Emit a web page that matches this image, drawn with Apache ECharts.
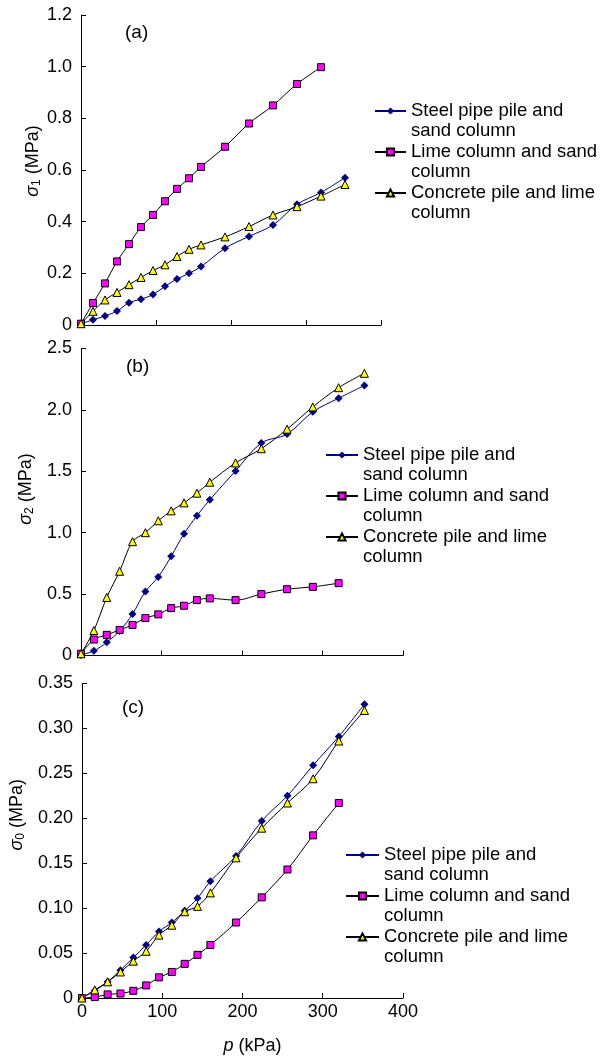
<!DOCTYPE html>
<html>
<head>
<meta charset="utf-8">
<script src="https://cdn.jsdelivr.net/npm/echarts@6/dist/echarts.min.js"></script>
<style>
  html, body { margin: 0; padding: 0; background: #fff; }
  #chart { width: 608px; height: 1056px; }
</style>
</head>
<body>
<div id="chart"></div>
<script>
// applied pressure p (kPa), same load steps for every test
const pSteps = [0, 16, 32, 48, 64, 80, 96, 112, 128, 144, 160, 192, 224, 256, 288, 320, 352]

const names = ['Steel pipe pile and sand column', 'Lime column and sand column', 'Concrete pile and lime column']
const legendLines = {
  'Steel pipe pile and sand column': 'Steel pipe pile and\nsand column',
  'Lime column and sand column': 'Lime column and sand\ncolumn',
  'Concrete pile and lime column': 'Concrete pile and lime\ncolumn'
}

// (a) sigma1 (MPa)
const steelA = [0.005, 0.02, 0.035, 0.054, 0.086, 0.10, 0.118, 0.15, 0.178, 0.20, 0.226, 0.297, 0.343, 0.387, 0.467, 0.513, 0.57]
const limeA = [0.005, 0.085, 0.161, 0.246, 0.313, 0.379, 0.426, 0.479, 0.527, 0.568, 0.612, 0.69, 0.78, 0.85, 0.933, 0.998]
const concA = [0.005, 0.053, 0.097, 0.126, 0.156, 0.184, 0.211, 0.233, 0.265, 0.293, 0.31, 0.341, 0.381, 0.426, 0.458, 0.499, 0.544]

// (b) sigma2 (MPa)
const steelB = [0.005, 0.038, 0.108, 0.2, 0.338, 0.522, 0.64, 0.808, 0.992, 1.138, 1.268, 1.503, 1.73, 1.803, 1.984, 2.095, 2.198]
const limeB = [0.014, 0.13, 0.168, 0.208, 0.249, 0.305, 0.335, 0.386, 0.405, 0.451, 0.465, 0.451, 0.5, 0.54, 0.559, 0.589]
const concB = [0.014, 0.203, 0.473, 0.686, 0.927, 1.0, 1.097, 1.178, 1.243, 1.322, 1.411, 1.568, 1.684, 1.843, 2.024, 2.181, 2.298]

// (c) sigma0 (MPa)
const steelC = [0, 0.008, 0.018, 0.031, 0.045, 0.059, 0.074, 0.084, 0.097, 0.111, 0.13, 0.158, 0.197, 0.225, 0.259, 0.291, 0.327]
const limeC = [0, 0.001, 0.004, 0.005, 0.008, 0.014, 0.023, 0.029, 0.038, 0.048, 0.059, 0.084, 0.112, 0.143, 0.181, 0.217]
const concC = [0, 0.009, 0.018, 0.029, 0.041, 0.052, 0.07, 0.081, 0.096, 0.102, 0.117, 0.156, 0.189, 0.217, 0.244, 0.286, 0.32]

const yMax = [1.2, 2.5, 0.35]
const yStep = [0.2, 0.5, 0.05]
const yDigits = [1, 1, 2]
const ySub = ['1', '2', '0']
const panelTags = ['(a)', '(b)', '(c)']

const font = 'Liberation Sans, Arial, sans-serif'

function pairs(vals) {
  return vals.map((v, i) => [pSteps[i], v])
}

const grids = [
  { left: 81, top: 15, width: 300, height: 310 },
  { left: 81, top: 348.5, width: 322, height: 307 },
  { left: 81, top: 683.5, width: 322, height: 316 }
]
const namePad = [18, 26, 52]
const legendPos = [
  { left: 374, top: 81, itemWidth: 31 },
  { left: 325, top: 425, itemWidth: 32 },
  { left: 345, top: 825, itemWidth: 33 }
]
const tagPos = [
  { left: 125, top: 23 },
  { left: 126, top: 357 },
  { left: 122, top: 698 }
]

const seriesStyle = [
  { symbol: 'diamond', symbolSize: 8, itemStyle: { color: '#000080', borderWidth: 0 }, lineStyle: { color: '#000080', width: 1 } },
  { symbol: 'rect', symbolSize: 7, itemStyle: { color: '#FF00FF', borderColor: '#000', borderWidth: 1 }, lineStyle: { color: '#000', width: 1 } },
  { symbol: 'triangle', symbolSize: 8, itemStyle: { color: '#FFFF00', borderColor: '#000', borderWidth: 1 }, lineStyle: { color: '#000', width: 1 } }
]

const panelData = [
  [steelA, limeA, concA],
  [steelB, limeB, concB],
  [steelC, limeC, concC]
]

const xAxes = grids.map((g, i) => ({
  type: 'value',
  gridIndex: i,
  min: 0,
  max: 400,
  interval: 100,
  splitLine: { show: false },
  axisLine: { lineStyle: { color: '#000', width: 1 } },
  axisTick: { inside: true, length: 5, lineStyle: { color: '#000' } },
  axisLabel: { show: i === 2, margin: 5, color: '#000', fontSize: 18, fontFamily: font },
  name: i === 2 ? '{i|p} (kPa)' : '',
  nameLocation: 'middle',
  nameGap: 39,
  nameTextStyle: {
    color: '#000', fontSize: 18, fontFamily: font, padding: [0, 0, 0, 20],
    rich: { i: { fontStyle: 'italic', fontSize: 18, fontFamily: font, color: '#000' } }
  }
}))

const yAxes = grids.map((g, i) => ({
  type: 'value',
  gridIndex: i,
  min: 0,
  max: yMax[i],
  interval: yStep[i],
  splitLine: { show: false },
  axisLine: { show: true, lineStyle: { color: '#000', width: 1 } },
  axisTick: { show: true, inside: true, length: 5, lineStyle: { color: '#000' } },
  axisLabel: {
    margin: 9, color: '#000', fontSize: 18, fontFamily: font,
    formatter: v => (v === 0 ? '0' : v.toFixed(yDigits[i]))
  },
  name: '{s|σ}{b|' + ySub[i] + '} (MPa)',
  nameLocation: 'middle',
  nameGap: 37,
  nameTextStyle: {
    color: '#000', fontSize: 18, fontFamily: font, padding: [0, 0, 0, namePad[i]],
    rich: {
      s: { fontStyle: 'italic', fontSize: 18, fontFamily: font, color: '#000', lineHeight: 20 },
      b: { fontSize: 12, fontFamily: font, color: '#000', verticalAlign: 'bottom', lineHeight: 14 }
    }
  }
}))

const series = []
panelData.forEach((group, i) => {
  group.forEach((vals, k) => {
    series.push(Object.assign({
      name: names[k],
      type: 'line',
      xAxisIndex: i,
      yAxisIndex: i,
      smooth: 0.35,
      clip: false,
      data: pairs(vals)
    }, seriesStyle[k]))
  })
})

const legends = legendPos.map(pos => ({
  orient: 'vertical',
  left: pos.left,
  top: pos.top,
  padding: 0,
  itemGap: -19,
  itemWidth: pos.itemWidth,
  itemHeight: 9,
  selectedMode: false,
  data: names,
  formatter: name => '\n' + legendLines[name],
  textStyle: { color: '#000', fontSize: 18.5, fontFamily: font, lineHeight: 20 }
}))

const titles = tagPos.map((pos, i) => ({
  text: panelTags[i],
  left: pos.left,
  top: pos.top,
  padding: 0,
  textStyle: { color: '#000', fontSize: 19, fontWeight: 'normal', fontFamily: font }
}))

const chart = echarts.init(document.getElementById('chart'))
chart.setOption({
  animation: false,
  backgroundColor: '#fff',
  title: titles,
  legend: legends,
  grid: grids,
  xAxis: xAxes,
  yAxis: yAxes,
  series: series
})
</script>
</body>
</html>
